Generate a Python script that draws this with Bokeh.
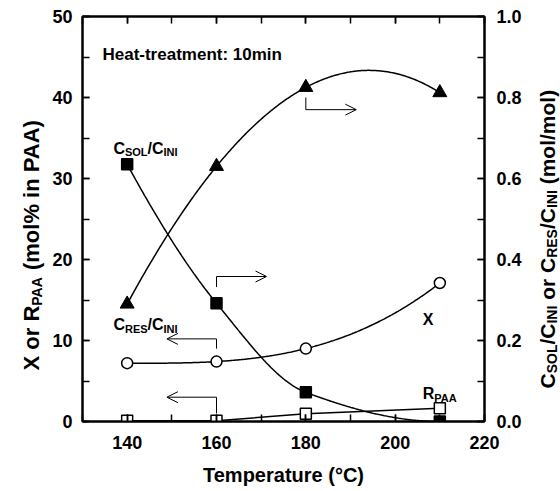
import numpy as np
from math import pi
from bokeh.plotting import figure
from bokeh.layouts import row
from bokeh.models import (Range1d, LinearAxis, SingleIntervalTicker, Label, Arrow,
                          OpenHead, PrintfTickFormatter)
from bokeh.embed import file_html
from bokeh.resources import INLINE

# ---------------- data ----------------
temperature = [140, 160, 180, 210]
x_conv = [7.2, 7.4, 9.0, 17.1]          # X (mol% in PAA), left axis
r_paa = [0.1, 0.1, 0.95, 1.65]           # R_PAA (mol% in PAA), left axis
c_sol = [0.635, 0.292, 0.072, 0.0]       # C_SOL/C_INI (mol/mol), right axis
c_res = [0.29, 0.63, 0.825, 0.812]       # C_RES/C_INI (mol/mol), right axis

x_ticks_interval = 20
left_ticks_interval = 10
right_ticks_interval = 0.2

FONT = "Liberation Sans"
CW, CH = 560, 491            # canvas
LW_FIG, RW_FIG = 45, 36      # side text strips
L, R, T, B = 82, 485, 16, 421  # frame edges in canvas pixels

# Arial/Liberation Sans Bold advance widths (per 1000 em)
W = {' ': 278, '(': 333, ')': 333, '%': 889, '/': 278, ':': 333, '-': 333, '.': 278,
     'A': 722, 'C': 722, 'E': 667, 'I': 278, 'L': 611, 'N': 722, 'O': 778, 'P': 667,
     'R': 722, 'S': 667, 'T': 611, 'X': 667, 'H': 722,
     'a': 556, 'e': 556, 'i': 278, 'l': 278, 'm': 889, 'n': 611, 'o': 611, 'r': 389,
     't': 333, 'u': 611, 'p': 611, 'c': 556}
for d in "0123456789":
    W[d] = 556


def text_width(s, size):
    return sum(W.get(ch, 556) for ch in s) * size / 1000.0


def cubic_curve(xs, ys, n=300):
    coef = np.polyfit(np.asarray(xs, float), np.asarray(ys, float), 3)
    xx = np.linspace(xs[0], xs[-1], n)
    return xx, np.polyval(coef, xx)


def pchip_curve(xs, ys, n=300):
    xs = np.asarray(xs, float)
    ys = np.asarray(ys, float)
    h = np.diff(xs)
    dl = np.diff(ys) / h
    k = len(xs)
    m = np.zeros(k)
    for i in range(1, k - 1):
        if dl[i - 1] * dl[i] > 0:
            w1 = 2 * h[i] + h[i - 1]
            w2 = h[i] + 2 * h[i - 1]
            m[i] = (w1 + w2) / (w1 / dl[i - 1] + w2 / dl[i])

    def end(h0, h1, d0, d1):
        d = ((2 * h0 + h1) * d0 - h0 * d1) / (h0 + h1)
        if np.sign(d) != np.sign(d0):
            return 0.0
        if np.sign(d0) != np.sign(d1) and abs(d) > abs(3 * d0):
            return 3 * d0
        return d

    m[0] = end(h[0], h[1], dl[0], dl[1])
    m[-1] = end(h[-1], h[-2], dl[-1], dl[-2])
    xx = np.linspace(xs[0], xs[-1], n)
    yy = np.empty_like(xx)
    for j, x in enumerate(xx):
        i = min(np.searchsorted(xs, x, side="right") - 1, k - 2)
        t = (x - xs[i]) / h[i]
        h00 = 2 * t ** 3 - 3 * t ** 2 + 1
        h10 = t ** 3 - 2 * t ** 2 + t
        h01 = -2 * t ** 3 + 3 * t ** 2
        h11 = t ** 3 - t ** 2
        yy[j] = h00 * ys[i] + h10 * h[i] * m[i] + h01 * ys[i + 1] + h11 * h[i] * m[i + 1]
    return xx, yy


# ---------------- main figure ----------------
X0, X1 = 130, 220
Y0, Y1 = 0, 50
main_w = CW - LW_FIG - RW_FIG

p = figure(width=main_w, height=CH, x_range=Range1d(X0, X1), y_range=Range1d(Y0, Y1),
           output_backend="svg", toolbar_location=None,
           min_border_left=L - LW_FIG, min_border_right=(CW - RW_FIG) - R,
           min_border_top=T, min_border_bottom=CH - B)
p.extra_y_ranges = {"right": Range1d(0, 1)}
p.xgrid.visible = False
p.ygrid.visible = False
p.outline_line_color = "black"
p.outline_line_width = 2
p.background_fill_color = "white"
p.border_fill_color = "white"


def style_axis(ax, interval, label_size="18px", standoff=10):
    ax.ticker = SingleIntervalTicker(interval=interval, num_minor_ticks=2)
    ax.axis_line_width = 2
    ax.axis_line_color = "black"
    ax.major_tick_in = 7
    ax.major_tick_out = 0
    ax.minor_tick_in = 7
    ax.minor_tick_out = 0
    ax.major_tick_line_width = 1.5
    ax.minor_tick_line_width = 1.5
    ax.major_label_text_font = FONT
    ax.major_label_text_font_style = "bold"
    ax.major_label_text_font_size = label_size
    ax.major_label_text_color = "black"
    ax.major_label_standoff = standoff


style_axis(p.xaxis[0], x_ticks_interval, standoff=14)
p.xaxis[0].axis_label = "Temperature (°C)"
p.xaxis[0].axis_label_text_font = FONT
p.xaxis[0].axis_label_text_font_style = "bold"
p.xaxis[0].axis_label_text_font_size = "20px"
p.xaxis[0].axis_label_standoff = 12
p.xaxis[0].axis_label_text_color = "black"

style_axis(p.yaxis[0], left_ticks_interval, standoff=10)

right_axis = LinearAxis(y_range_name="right")
style_axis(right_axis, right_ticks_interval, standoff=12)
right_axis.formatter = PrintfTickFormatter(format="%.1f")
p.add_layout(right_axis, "right")

top_axis = LinearAxis()
style_axis(top_axis, x_ticks_interval, label_size="1px", standoff=0)
top_axis.major_label_text_alpha = 0
p.add_layout(top_axis, "above")

# ---------------- curves ----------------
LWD = 1.5
xx, yy = cubic_curve(temperature, x_conv)
p.line(xx, yy, line_color="black", line_width=LWD)
xx, yy = cubic_curve(temperature, c_res)
p.line(xx, yy, line_color="black", line_width=LWD, y_range_name="right")
xx, yy = pchip_curve(temperature, c_sol)
p.line(xx, yy, line_color="black", line_width=LWD, y_range_name="right")
p.line(temperature, r_paa, line_color="black", line_width=LWD)

p.scatter(temperature, r_paa, marker="square", size=11, fill_color="white",
          line_color="black", line_width=1.5)
p.scatter(temperature, x_conv, marker="circle", size=11, fill_color="white",
          line_color="black", line_width=1.5)
p.scatter(temperature, c_sol, marker="square", size=11, fill_color="black",
          line_color="black", line_width=1.5, y_range_name="right")
p.scatter(temperature, c_res, marker="triangle", size=14, fill_color="black",
          line_color="black", line_width=1.0, y_range_name="right")


# ---------------- pointer arrows (annotations) ----------------
def pointer(xv, y_from, y_to, x_to):
    p.add_layout(Arrow(end=None, x_start=xv, y_start=y_from, x_end=xv, y_end=y_to,
                       line_width=1, line_color="black"))
    p.add_layout(Arrow(end=OpenHead(size=11, line_width=1, line_color="black"),
                       x_start=xv, y_start=y_to, x_end=x_to, y_end=y_to,
                       line_width=1, line_color="black"))


pointer(180, 40.0, 38.5, 191.3)
pointer(160, 16.6, 17.9, 171.2)
pointer(160, 9.0, 10.2, 148.9)
pointer(160, 1.0, 3.0, 148.9)


# ---------------- in-plot texts (pixel -> data) ----------------
def dx(px):
    return X0 + (px - L) * (X1 - X0) / (R - L)


def dy(py):
    return Y0 + (B - py) * (Y1 - Y0) / (B - T)


def split_lead(txt, size):
    stripped = txt.lstrip(" ")
    return stripped, text_width(txt[:len(txt) - len(stripped)], size)


def htext(pieces, x_px, base_px, f, s, drop):
    cx = x_px
    for txt, sub in pieces:
        size = s if sub else f
        txt, lead = split_lead(txt, size)
        cx += lead
        p.add_layout(Label(x=dx(cx), y=dy(base_px + (drop if sub else 0)), text=txt,
                           text_font=FONT, text_font_style="bold",
                           text_font_size=f"{size}px", text_color="black",
                           text_align="left", text_baseline="alphabetic"))
        cx += text_width(txt, size)


htext([("Heat-treatment: 10min", False)], 102, 54, 17, 17, 0)
htext([("C", False), ("SOL", True), ("/C", False), ("INI", True)], 113, 147.5, 16, 11, 4)
htext([("C", False), ("RES", True), ("/C", False), ("INI", True)], 113, 324, 16, 11, 4)
htext([("X", False)], 423, 319, 16, 16, 0)
htext([("R", False), ("PAA", True)], 423, 393, 16, 11, 4)


# ---------------- side strips with rotated axis titles ----------------
# Plots in a row get their frames aligned, so a strip's frame spans canvas rows T..B;
# its y range is set so that data y == CH - canvas_y.
def strip(width):
    f = figure(width=width, height=CH, x_range=Range1d(0, width),
               y_range=Range1d(CH - B, CH - T),
               output_backend="svg", toolbar_location=None, min_border=0,
               min_border_top=T, min_border_bottom=CH - B,
               x_axis_type=None, y_axis_type=None)
    f.outline_line_color = None
    f.xgrid.visible = False
    f.ygrid.visible = False
    f.background_fill_color = "white"
    f.border_fill_color = "white"
    return f


def vtext(fig, x_off, pieces, base_x_px, bottom_px, fsize, ssize, drop):
    cy = bottom_px
    for txt, sub in pieces:
        size = ssize if sub else fsize
        txt, lead = split_lead(txt, size)
        cy -= lead
        fig.add_layout(Label(x=base_x_px + (drop if sub else 0) - x_off, y=CH - cy,
                             text=txt, angle=pi / 2, text_font=FONT,
                             text_font_style="bold", text_font_size=f"{size}px",
                             text_color="black", text_align="left",
                             text_baseline="alphabetic"))
        cy -= text_width(txt, size)


left_strip = strip(LW_FIG)
vtext(left_strip, 0, [("X or R", False), ("PAA", True), (" (mol% in PAA)", False)],
      31, 370, 22, 14, 5)

right_strip = strip(RW_FIG)
vtext(right_strip, CW - RW_FIG,
      [("C", False), ("SOL", True), ("/C", False), ("INI", True), (" or C", False),
       ("RES", True), ("/C", False), ("INI", True), (" (mol/mol)", False)],
      547, 388, 21, 14, 4)

layout = row(left_strip, p, right_strip, spacing=0)
open("out.html", "w").write(file_html(layout, INLINE))
